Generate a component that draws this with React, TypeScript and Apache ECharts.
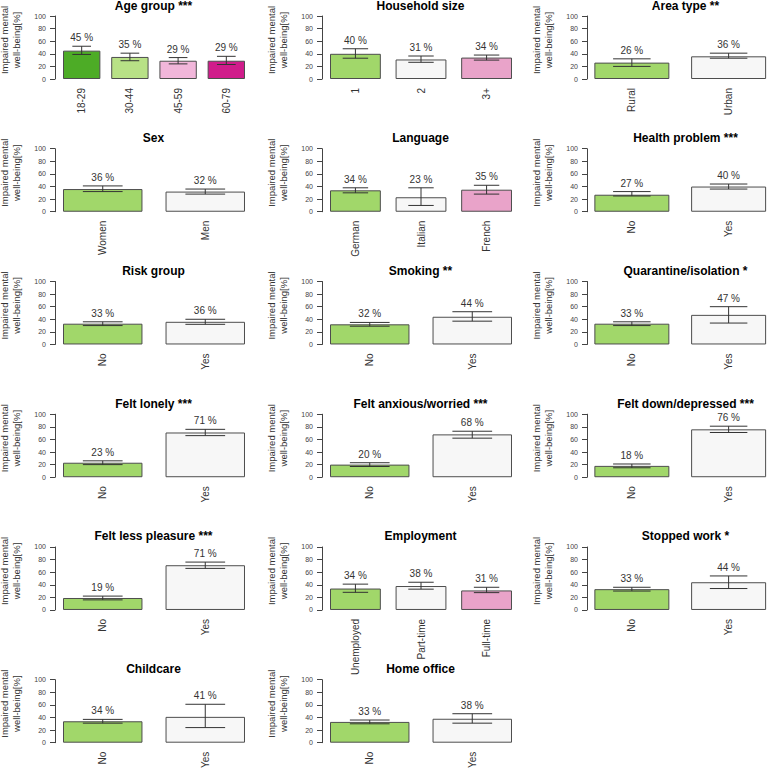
import React, { useEffect, useRef } from 'react';
import * as echarts from 'echarts';

// ---- Data ----
const panelTitles = [
  'Age group ***', 'Household size', 'Area type **',
  'Sex', 'Language', 'Health problem ***',
  'Risk group', 'Smoking **', 'Quarantine/isolation *',
  'Felt lonely ***', 'Felt anxious/worried ***', 'Felt down/depressed ***',
  'Felt less pleasure ***', 'Employment', 'Stopped work *',
  'Childcare', 'Home office',
];

const panelCategories = [
  ['18-29', '30-44', '45-59', '60-79'], ['1', '2', '3+'], ['Rural', 'Urban'],
  ['Women', 'Men'], ['German', 'Italian', 'French'], ['No', 'Yes'],
  ['No', 'Yes'], ['No', 'Yes'], ['No', 'Yes'],
  ['No', 'Yes'], ['No', 'Yes'], ['No', 'Yes'],
  ['No', 'Yes'], ['Unemployed', 'Part-time', 'Full-time'], ['No', 'Yes'],
  ['No', 'Yes'], ['No', 'Yes'],
];

const panelValues = [
  [45, 35, 29, 29], [40, 31, 34], [26, 36],
  [36, 32], [34, 23, 35], [27, 40],
  [33, 36], [32, 44], [33, 47],
  [23, 71], [20, 68], [18, 76],
  [19, 71], [34, 38, 31], [33, 44],
  [34, 41], [33, 38],
];

const panelLower = [
  [39, 29, 24, 23], [33, 26.5, 30], [20, 33],
  [32, 28], [30, 10, 28], [25, 36],
  [30, 32], [29, 37], [30, 34],
  [20, 66], [17, 62], [15, 71],
  [16, 66], [28, 33, 27.5], [30, 34],
  [31, 24], [30, 31],
];

const panelUpper = [
  [52, 41, 34, 36], [48, 36.5, 38], [32, 41],
  [41, 36], [38, 38, 42], [32, 44],
  [36, 40], [35, 52], [36, 60],
  [26, 76], [23, 73], [21, 81],
  [22, 76], [41, 44, 36], [36, 54],
  [37, 61], [36, 46],
];

const yTicks = [0, 20, 40, 60, 80, 100];
const yLabelText = 'Impaired mental\nwell-being[%]';

const palette2 = ['#A1D76A', '#F7F7F7'];
const palette3 = ['#A1D76A', '#F7F7F7', '#E9A3C9'];
const palette4 = ['#4DAC26', '#B8E186', '#F1B6DA', '#D01C8B'];

// ---- Layout ----
const FONT = '"Liberation Sans", Arial, Helvetica, sans-serif';
const colAxisX = [55, 322, 587];
const ROW0_ZERO = 79;
const ROW_STEP = 132.74;
const PLOT_H = 63;
const SPACE = 0.29;
const GAP_PCT = SPACE / (1 + SPACE);

function buildOption() {
  const grid: any[] = [];
  const xAxis: any[] = [];
  const yAxis: any[] = [];
  const series: any[] = [];
  const graphic: any[] = [];

  panelTitles.forEach((title, p) => {
    const row = Math.floor(p / 3);
    const col = p % 3;
    const axisX = colAxisX[col];
    const zeroY = ROW0_ZERO + ROW_STEP * row;
    const topY = zeroY - PLOT_H;
    const cats = panelCategories[p];
    const n = cats.length;
    const span = 182;
    const w = span / (n + SPACE * (n - 1));
    const g = SPACE * w;
    const gridLeft = axisX + 8 - g / 2;
    const gridWidth = n * (w + g);
    const palette = n === 4 ? palette4 : n === 3 ? palette3 : palette2;

    grid.push({ left: gridLeft, top: topY, width: gridWidth, height: PLOT_H, containLabel: false });
    xAxis.push({
      type: 'category', gridIndex: p, data: cats,
      axisLine: { show: false }, axisTick: { show: false },
      axisLabel: { rotate: 90, margin: 9, fontSize: 10, color: '#333', fontFamily: FONT, interval: 0 },
    });
    yAxis.push({
      type: 'value', gridIndex: p, min: 0, max: 100, interval: 20,
      offset: gridLeft - axisX,
      axisLine: { show: true, lineStyle: { color: '#444', width: 1 } },
      axisTick: { show: true, length: 5, lineStyle: { color: '#444', width: 1 } },
      axisLabel: { fontSize: 7, color: '#444', margin: 9, fontFamily: FONT,
        formatter: (v: number) => (yTicks.includes(v) ? String(v) : '') },
      splitLine: { show: false },
    });
    series.push({
      type: 'bar', xAxisIndex: p, yAxisIndex: p,
      barCategoryGap: (GAP_PCT * 100).toFixed(1) + '%',
      data: panelValues[p].map((v, i) => ({
        value: v,
        itemStyle: { color: palette[i], borderColor: '#4d4d4d', borderWidth: 1 },
      })),
    });
    series.push({
      type: 'custom', xAxisIndex: p, yAxisIndex: p, z: 5,
      encode: { x: 0, y: [1, 2] },
      data: panelValues[p].map((v, i) => [i, panelLower[p][i], panelUpper[p][i], v]),
      renderItem: (params: any, api: any) => {
        const i = api.value(0);
        const lo = api.coord([i, api.value(1)]);
        const hi = api.coord([i, api.value(2)]);
        const band = api.size([1, 0])[0];
        const half = (band * (1 - GAP_PCT)) / 4;
        const x = lo[0];
        const st = { stroke: '#333', lineWidth: 1 };
        return {
          type: 'group',
          children: [
            { type: 'line', shape: { x1: x, y1: lo[1], x2: x, y2: hi[1] }, style: st },
            { type: 'line', shape: { x1: x - half, y1: hi[1], x2: x + half, y2: hi[1] }, style: st },
            { type: 'line', shape: { x1: x - half, y1: lo[1], x2: x + half, y2: lo[1] }, style: st },
            {
              type: 'text',
              style: {
                text: api.value(3) + ' %', x, y: hi[1] - 8.5,
                textAlign: 'center', textVerticalAlign: 'middle',
                fontSize: 10, fontFamily: FONT, fill: '#333',
              },
            },
          ],
        };
      },
    });

    graphic.push({
      type: 'text', x: axisX + 98.5, y: topY - 10.5,
      style: { text: title, textAlign: 'center', textVerticalAlign: 'middle',
        font: `bold 12px ${FONT}`, fill: '#000' },
    });
    graphic.push({
      type: 'text', x: axisX - 44.5, y: topY + 24, rotation: Math.PI / 2,
      style: { text: yLabelText, textAlign: 'center', textVerticalAlign: 'middle',
        font: `9.5px ${FONT}`, lineHeight: 12.5, fill: '#333' },
    });
  });

  return { animation: false, backgroundColor: '#fff', grid, xAxis, yAxis, series, graphic };
}

export default function App() {
  const ref = useRef<HTMLDivElement>(null);
  useEffect(() => {
    if (!ref.current) return;
    const chart = echarts.init(ref.current, undefined, { renderer: 'svg' });
    chart.setOption(buildOption() as any);
    return () => chart.dispose();
  }, []);
  return (
    <div
      ref={ref}
      style={{ position: 'fixed', left: 0, top: 0, width: 777, height: 772, background: '#fff' }}
    />
  );
}
